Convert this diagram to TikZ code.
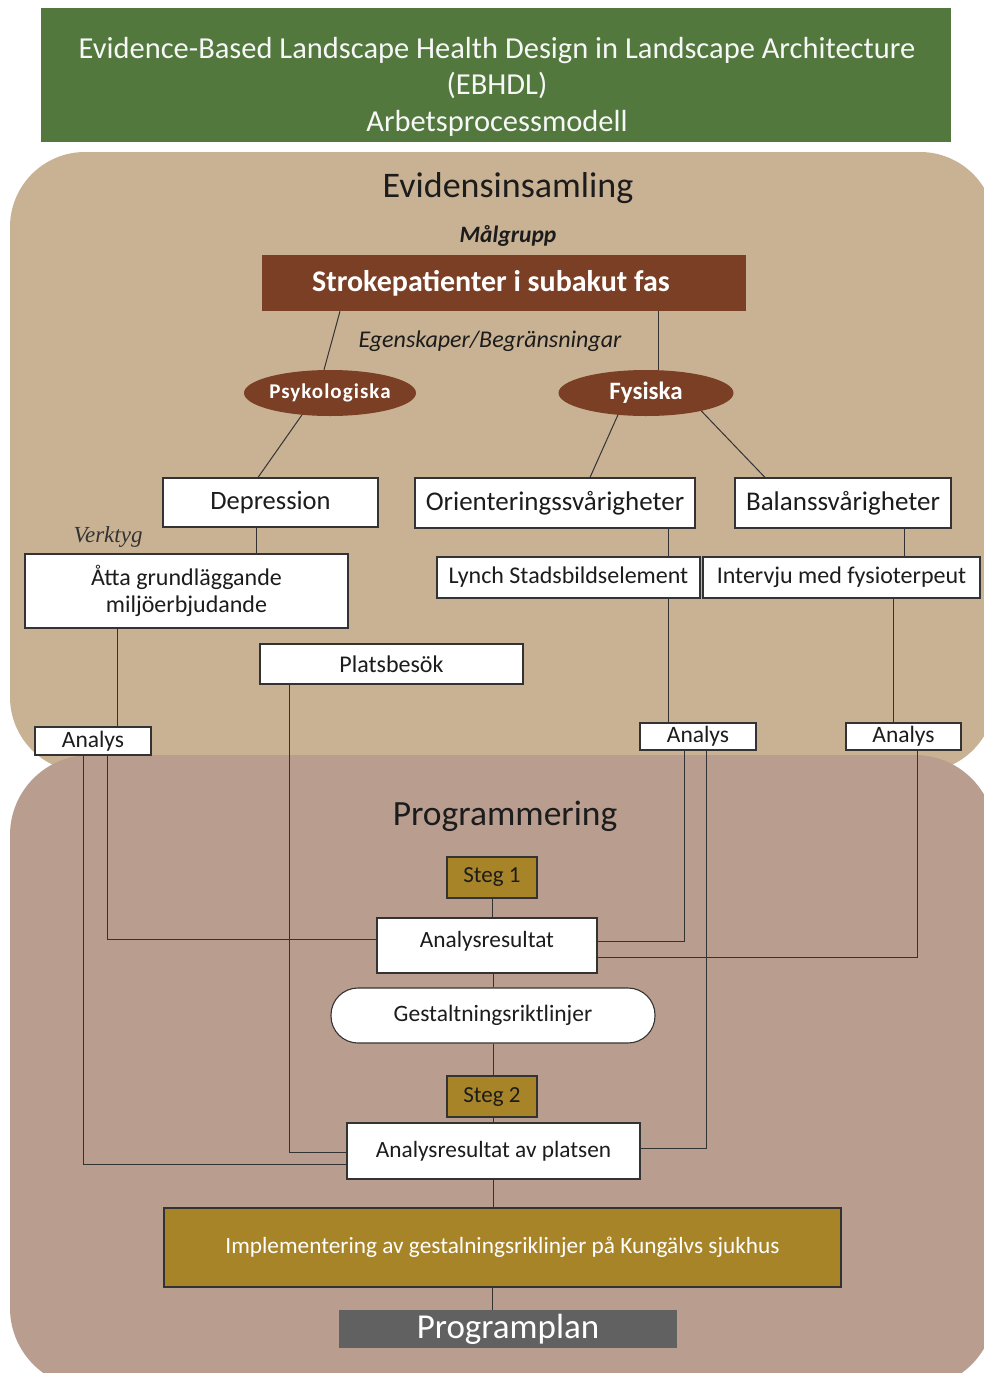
\documentclass[tikz,border=0pt]{standalone}
\usepackage{fontspec}
\setmainfont{Carlito}
\newfontfamily\serifit{Liberation Serif}
\usetikzlibrary{shapes.geometric,calc}

\definecolor{headgreen}{HTML}{52783D}
\definecolor{tanbg}{HTML}{C9B293}
\definecolor{rosebg}{HTML}{B99E90}
\definecolor{darkbrown}{HTML}{7A3F24}
\definecolor{gold}{HTML}{A88428}
\definecolor{slate}{HTML}{616161}
\definecolor{ink}{HTML}{1C1C1C}
\definecolor{edge}{HTML}{333333}

\tikzset{
  whitebox/.style={draw=edge, line width=1.1pt, fill=white, text=ink,
    inner sep=0pt, align=center},
  goldbox/.style={draw=edge, line width=1.1pt, fill=gold, inner sep=0pt, align=center},
  oval/.style={ellipse, fill=darkbrown, text=white, inner sep=0pt},
  link/.style={draw=edge, line width=1pt},
}

\begin{document}
\begin{tikzpicture}[x=1pt, y=-1pt]
\useasboundingbox (0,0) rectangle (983,1373);
\fill[white] (0,0) rectangle (983,1373);

% section backgrounds
\fill[tanbg, rounded corners=75pt] (10,152) rectangle (995,772);
\fill[rosebg, rounded corners=80pt] (10,755) rectangle (995,1388);

% header banner
\fill[headgreen] (41,8) rectangle (951,142);
\node[text=white!94!gray, align=center, inner sep=0pt, font=\fontsize{30.5}{36.5}\selectfont]
  (head) at (497,86.5)
  {Evidence-Based Landscape Health Design in Landscape Architecture\\(EBHDL)\\Arbetsprocessmodell};

% ---------------- Evidensinsamling ----------------
\node[text=ink, font=\fontsize{36}{42}\selectfont] (evid) at (508,188) {Evidensinsamling};
\node[text=ink, font=\fontsize{23.5}{28}\selectfont\bfseries\itshape] (mal) at (508,236) {Målgrupp};

\node[fill=darkbrown, text=white, minimum width=484pt, minimum height=56pt, inner sep=0pt,
  font=\fontsize{30}{34}\selectfont\bfseries] (strk) at (504,283)
  {Strokepatienter i subakut fas\hspace*{26pt}};

\node[text=ink, font=\fontsize{24}{28}\selectfont\itshape] (egen) at (490,341) {Egenskaper/Begränsningar};

\node[oval, minimum width=172pt, minimum height=46pt,
  font=\fontsize{21}{24}\selectfont\bfseries\addfontfeature{LetterSpace=5}]
  (psy) at (330,393) {Psykologiska};
\node[oval, minimum width=175pt, minimum height=46pt, font=\fontsize{25}{29}\selectfont\bfseries]
  (fys) at (646,393) {Fysiska};

\node[whitebox, minimum width=215pt, minimum height=49pt, font=\fontsize{26.5}{30}\selectfont]
  (dep) at (270.5,502.5) {Depression};
\node[whitebox, minimum width=280pt, minimum height=50pt, font=\fontsize{27}{30}\selectfont]
  (ori) at (555,503) {Orienteringssvårigheter};
\node[whitebox, minimum width=216pt, minimum height=50pt, font=\fontsize{27}{30}\selectfont]
  (bal) at (843,503) {Balanssvårigheter};

\node[text=edge, font=\fontsize{23}{26}\serifit\itshape] (verk) at (108,537) {Verktyg};

\node[whitebox, minimum width=323pt, minimum height=74pt, font=\fontsize{24}{27}\selectfont]
  (atta) at (186.5,591) {Åtta grundläggande\\miljöerbjudande};
\node[whitebox, minimum width=263pt, minimum height=41pt, font=\fontsize{24}{27}\selectfont]
  (lyn) at (568.5,577.5) {Lynch Stadsbildselement};
\node[whitebox, minimum width=277pt, minimum height=41pt, font=\fontsize{24}{27}\selectfont]
  (intv) at (841.5,577.5) {Intervju med fysioterpeut};
\node[whitebox, minimum width=263pt, minimum height=40pt, font=\fontsize{24}{27}\selectfont]
  (plat) at (391.5,664) {Platsbesök};

\node[whitebox, minimum width=116pt, minimum height=28pt, font=\fontsize{23.5}{26}\selectfont]
  (an1) at (93,741) {Analys};
\node[whitebox, minimum width=116pt, minimum height=27pt, font=\fontsize{23.5}{26}\selectfont]
  (an2) at (698,736.5) {Analys};
\node[whitebox, minimum width=115pt, minimum height=27pt, font=\fontsize{23.5}{26}\selectfont]
  (an3) at (903.5,736.5) {Analys};

% ---------------- Programmering ----------------
\node[text=ink, font=\fontsize{35.5}{42}\selectfont] (prog) at (505,816) {Programmering};

\node[goldbox, text=ink, minimum width=90pt, minimum height=41pt, font=\fontsize{23}{26}\selectfont]
  (st1) at (492,877.5) {Steg 1};
\node[whitebox, minimum width=220pt, minimum height=55pt, text depth=13pt,
  font=\fontsize{23.3}{26}\selectfont]
  (ar) at (487,945.5) {Analysresultat};
\node[whitebox, rounded corners=27pt, minimum width=324pt, minimum height=55pt,
  font=\fontsize{23.5}{26}\selectfont]
  (gest) at (493,1015.5) {Gestaltningsriktlinjer};
\node[goldbox, text=ink, minimum width=90pt, minimum height=41pt, font=\fontsize{23}{26}\selectfont]
  (st2) at (492,1096.5) {Steg 2};
\node[whitebox, minimum width=293pt, minimum height=56pt,
  font=\fontsize{23.3}{26}\selectfont]
  (arp) at (493.5,1151) {Analysresultat av platsen};
\node[goldbox, text=white, minimum width=677pt, minimum height=79pt, font=\fontsize{23.3}{26}\selectfont]
  (impl) at (502.5,1247.5) {Implementering av gestalningsriklinjer på Kungälvs sjukhus};
\node[fill=slate, text=white, minimum width=338pt, minimum height=38pt, inner sep=0pt,
  font=\fontsize{35}{38}\selectfont]
  (pp) at (508,1329) {Programplan};

% ---------------- connectors ----------------
\draw[link] (strk.south -| 340,0) -- (psy.north -| 324,0);
\draw[link] (strk.south -| 658,0) -- (fys.north -| 658,0);
\draw[link] (psy.218) -- (dep.north -| 258,0);
\draw[link] (fys.218) -- (ori.north -| 590,0);
\draw[link] (fys.-18) -- (bal.north -| 765,0);
\draw[link] (dep.south -| 256,0) -- (atta.north -| 256,0);
\draw[link] (ori.south -| 668,0) -- (lyn.north -| 668,0);
\draw[link] (lyn.south -| 668,0) -- (an2.north -| 668,0);
\draw[link] (bal.south -| 904,0) -- (intv.north -| 904,0);
\draw[link] (intv.south -| 893,0) -- (an3.north -| 893,0);
\draw[link] (atta.south -| 117,0) -- (an1.north -| 117,0);

\draw[link] (an1.south -| 83,0) |- (arp.west |- 0,1164);
\draw[link] (an1.south -| 107,0) |- (ar.west |- 0,939);
\draw[link] (plat.south -| 289,0) |- (arp.west |- 0,1152);
\draw[link] (an2.south -| 684,0) |- (ar.east |- 0,941);
\draw[link] (an2.south -| 706,0) |- (arp.east |- 0,1148);
\draw[link] (an3.south -| 917,0) |- (ar.east |- 0,957);

\draw[link] (st1.south) -- (ar.north -| st1.south);
\draw[link] (ar.south -| gest.north) -- (gest.north);
\draw[link] (gest.south) -- (st2.north -| gest.south);
\draw[link] (st2.south -| arp.north) -- (arp.north);
\draw[link] (arp.south) -- (impl.north -| arp.south);
\draw[link] (impl.south -| 492,0) -- (pp.north -| 492,0);
\end{tikzpicture}
\end{document}
